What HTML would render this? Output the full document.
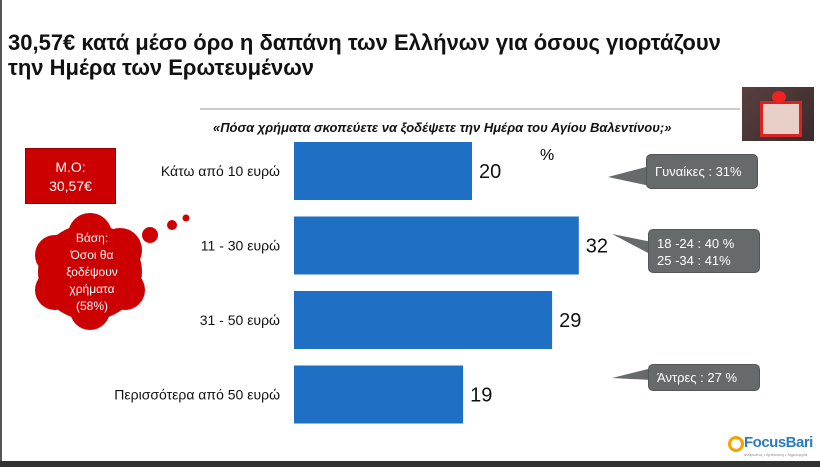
<!DOCTYPE html>
<html><head><meta charset="utf-8"><style>
body{margin:0;width:820px;height:467px;overflow:hidden;background:#fff;font-family:"Liberation Sans",sans-serif;position:relative}
.a{position:absolute}
.call{background:#666a6b;color:#fff;border-radius:5px;font-size:13px;padding:4px 8px;border:1px solid #555;white-space:nowrap}
</style></head><body>
<div class="a" style="left:0;top:0;width:2px;height:467px;background:#555"></div>
<div class="a" style="left:0;top:461px;width:820px;height:6px;background:#333"></div>
<div class="a" style="left:8px;top:30px;font-size:22px;font-weight:bold;line-height:25px;color:#111">30,57€ κατά μέσο όρο η δαπάνη των Ελλήνων για όσους γιορτάζουν<br>την Ημέρα των Ερωτευμένων</div>
<div class="a" style="left:200px;top:108px;width:540px;height:2px;background:#ccc"></div>
<div class="a" style="left:742px;top:87px;width:72px;height:54px;background:linear-gradient(135deg,#5a4040,#3a2a2a)">
<div class="a" style="left:18px;top:14px;width:36px;height:30px;background:#e8cfc8;border:3px solid #d22"></div>
<div class="a" style="left:30px;top:4px;width:14px;height:12px;border-radius:50%;background:#e22"></div></div>
<div class="a" style="left:213px;top:120px;font-size:13px;font-style:italic;font-weight:bold;color:#111">«Πόσα χρήματα σκοπεύετε να ξοδέψετε την Ημέρα του Αγίου Βαλεντίνου;»</div>
<div class="a" style="left:540px;top:147px;font-size:16px">%</div>
<div class="a" style="left:25px;top:148px;width:91px;height:56px;background:#c00;color:#fff;font-size:14px;text-align:center;line-height:19px;box-sizing:border-box;padding-top:9px;border:1px solid #900">Μ.Ο:<br>30,57€</div>
<svg class="a" style="left:30px;top:210px" width="160" height="120">
<g fill="#c00">
<ellipse cx="60" cy="62" rx="52" ry="48"/><circle cx="25" cy="45" r="20"/><circle cx="25" cy="80" r="20"/><circle cx="60" cy="25" r="22"/><circle cx="90" cy="40" r="22"/><circle cx="95" cy="80" r="20"/><circle cx="60" cy="100" r="20"/>
<circle cx="120" cy="25" r="8"/><circle cx="142" cy="15" r="5"/><circle cx="156" cy="8" r="3.5"/></g>
<text x="62" y="32" fill="#fff" font-size="12" text-anchor="middle">Βάση:</text>
<text x="62" y="49" fill="#fff" font-size="12" text-anchor="middle">Όσοι θα</text>
<text x="62" y="66" fill="#fff" font-size="12" text-anchor="middle">ξοδέψουν</text>
<text x="62" y="83" fill="#fff" font-size="12" text-anchor="middle">χρήματα</text>
<text x="62" y="100" fill="#fff" font-size="12" text-anchor="middle">(58%)</text>
</svg>
<svg id="chart" class="a" style="left:0;top:0" width="820" height="467"></svg>
<svg class="a" style="left:0;top:0" width="820" height="467">
<polygon points="608,177 650,166 650,186" fill="#666a6b"/>
<polygon points="612,234 652,242 652,255" fill="#666a6b"/>
<polygon points="612,378 652,368 652,380" fill="#666a6b"/>
</svg>
<div class="a call" style="left:646px;top:154px;width:112px;height:35px;box-sizing:border-box;padding-top:9px">Γυναίκες : 31%</div>
<div class="a call" style="left:648px;top:229px;width:112px;height:44px;box-sizing:border-box;padding:5px 8px;line-height:17px">18 -24 : 40 %<br>25 -34 : 41%</div>
<div class="a call" style="left:648px;top:364px;width:112px;height:27px;box-sizing:border-box;padding-top:5px">Άντρες : 27 %</div>
<div class="a" style="left:728px;top:434px">
<div class="a" style="left:0;top:2px;width:10px;height:10px;border:3px solid #f4a300;border-radius:50%"></div>
<div class="a" style="left:16px;top:0;font-size:15px;font-weight:bold;color:#2a7bc0;white-space:nowrap;letter-spacing:-0.5px">FocusBari</div>
<div class="a" style="left:16px;top:18px;font-size:4px;color:#888;white-space:nowrap">άνθρωπος • έμπνευση • δημιουργία</div></div>
<script>
const categories=["Κάτω από 10 ευρώ","11 - 30 ευρώ","31 - 50 ευρώ","Περισσότερα από 50 ευρώ"];
const values=[20,32,29,19];
const svg=document.getElementById('chart');
const NS='http://www.w3.org/2000/svg';
const x0=294,pxPer=8.9;
function xs(v){return x0+v*pxPer;}
function ys(i){return 142+i*74.5;}
const bh=58;
categories.forEach((c,i)=>{
 const r=document.createElementNS(NS,'rect');
 r.setAttribute('x',x0);r.setAttribute('y',ys(i));r.setAttribute('width',xs(values[i])-x0);r.setAttribute('height',bh);r.setAttribute('fill','#1f6fc5');
 
 
 svg.appendChild(r);
 const t=document.createElementNS(NS,'text');
 t.setAttribute('x',xs(values[i])+7);t.setAttribute('y',ys(i)+bh/2+7);t.setAttribute('font-size','20');t.setAttribute('fill','#111');
 t.textContent=values[i];
 
 
 svg.appendChild(t);
 const l=document.createElementNS(NS,'text');
 l.setAttribute('x',280);l.setAttribute('y',ys(i)+bh/2+5);l.setAttribute('font-size','14');l.setAttribute('text-anchor','end');l.setAttribute('fill','#111');
 l.textContent=c;
 
 
 svg.appendChild(l);
});
</script>
</body></html>
